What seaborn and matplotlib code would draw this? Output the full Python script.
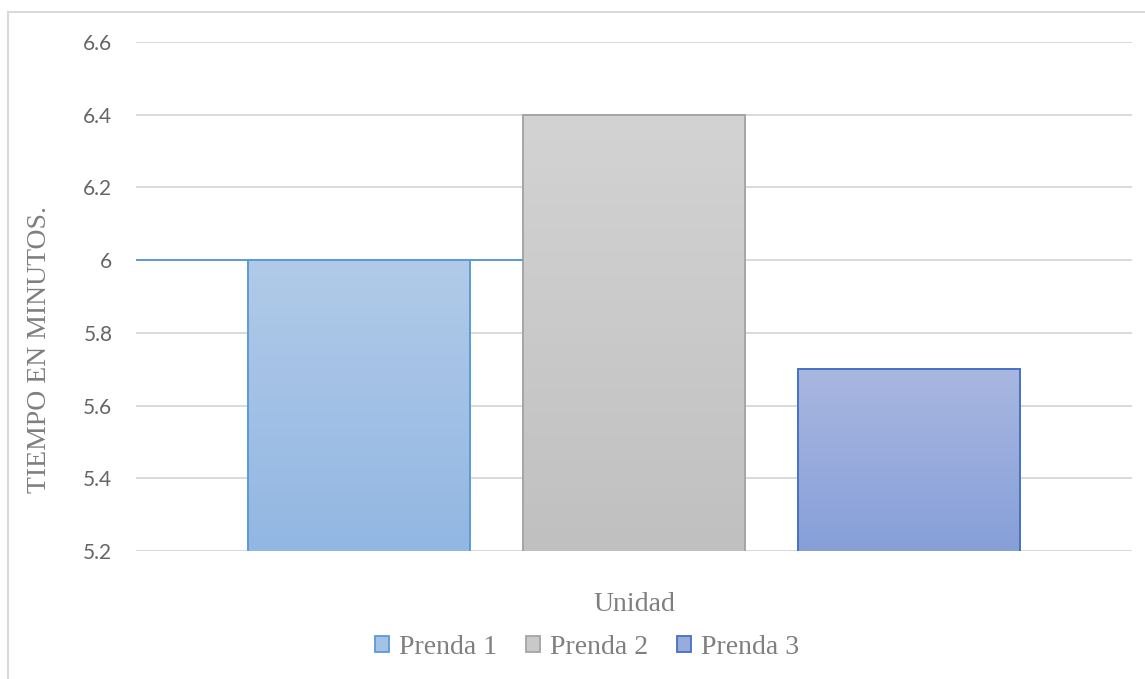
import numpy as np
import pandas as pd
import matplotlib
matplotlib.use("Agg")
import matplotlib.pyplot as plt
from matplotlib.colors import LinearSegmentedColormap
from matplotlib.patches import Patch, Rectangle
import seaborn as sns

# Data
categories = ["Unidad"]
series = ["Prenda 1", "Prenda 2", "Prenda 3"]
values = [6.0, 6.4, 5.7]
y_ticks = [5.2, 5.4, 5.6, 5.8, 6.0, 6.2, 6.4, 6.6]
y_tick_labels = ["5.2", "5.4", "5.6", "5.8", "6", "6.2", "6.4", "6.6"]

# Styling: gradient (top, bottom) and border colours for each series
grad_colors = [("#b1cae8", "#92b7e3"), ("#d3d3d3", "#c0c0c0"), ("#a9b7e1", "#879fd8")]
edge_colors = ["#5b9bd5", "#a5a5a5", "#4472c4"]
legend_fill = ["#a3c2e6", "#c9c9c9", "#98abdc"]

df = pd.DataFrame({"cat": categories * len(series), "serie": series, "valor": values})

sns.set_theme(style="white")
plt.rcParams["font.family"] = ["Lato", "DejaVu Sans"]

fig = plt.figure(figsize=(11.45, 6.79), dpi=100)
ax = fig.add_axes([136 / 1145, 1 - 551 / 679, 996 / 1145, 509 / 679])

sns.barplot(data=df, x="cat", y="valor", hue="serie", hue_order=series,
            width=0.828, gap=0.193, legend=False, ax=ax,
            palette=legend_fill, saturation=1)

ax.set_ylim(5.2, 6.6)
ax.set_xlim(-0.5, 0.5)
ax.set_yticks(y_ticks)
ax.set_yticklabels(y_tick_labels)
ax.tick_params(axis="y", length=0, pad=17, labelsize=15, labelcolor="#666666")
ax.tick_params(axis="x", length=0, labelbottom=False)
ax.yaxis.grid(True, color="#d9d9d9", linewidth=1.4)
ax.set_axisbelow(True)
for s in ax.spines.values():
    s.set_visible(False)

# Vertical gradient fill for each bar, clipped to its patch
bars = [p for p in ax.patches if isinstance(p, Rectangle)]
for bar, (top, bot), ec in zip(bars, grad_colors, edge_colors):
    x0, y0 = bar.get_x(), bar.get_y()
    w, h = bar.get_width(), bar.get_height()
    cmap = LinearSegmentedColormap.from_list("g", [bot, top])
    grad = np.linspace(0, 1, 256).reshape(-1, 1)
    y_bottom = ax.get_ylim()[0]
    im = ax.imshow(grad, cmap=cmap, origin="lower", aspect="auto",
                   extent=[x0, x0 + w, y_bottom, y0 + h], zorder=2)
    im.set_clip_path(bar)
    bar.set_facecolor("none")
    bar.set_edgecolor(ec)
    bar.set_linewidth(1.4)
    bar.set_zorder(3)

ax.set_xlim(-0.5, 0.5)
ax.set_ylim(5.2, 6.6)

# Blue reference line at the first series value, up to the second bar
ax.hlines(values[0], -0.5, bars[1].get_x(), color=edge_colors[0],
          linewidth=1.4, zorder=4)

serif = ["Liberation Serif", "DejaVu Serif"]
ax.set_ylabel("TIEMPO EN MINUTOS.", fontsize=20, color="#7f7f7f", family=serif)
ax.yaxis.set_label_coords(-0.084, 0.395)
ax.set_xlabel("Unidad", fontsize=20, color="#7f7f7f", family=serif)
ax.xaxis.set_label_coords(0.5, -0.08)

handles = [Patch(facecolor=fc, edgecolor=ec, linewidth=1.3)
           for fc, ec in zip(legend_fill, edge_colors)]
fig.legend(handles, series, loc="center", bbox_to_anchor=(587 / 1145, 1 - 647 / 679),
           ncol=3, frameon=False, handlelength=0.5, handleheight=0.5,
           handletextpad=0.35, columnspacing=1.05,
           prop={"family": serif, "size": 20}, labelcolor="#7f7f7f")

# Chart area border
fig.add_artist(Rectangle((8 / 1145, -0.1), 1.2, 1 - 12 / 679 + 0.1,
                         transform=fig.transFigure, fill=False,
                         edgecolor="#d9d9d9", linewidth=1.5))

fig.savefig("out.png", dpi=100)
